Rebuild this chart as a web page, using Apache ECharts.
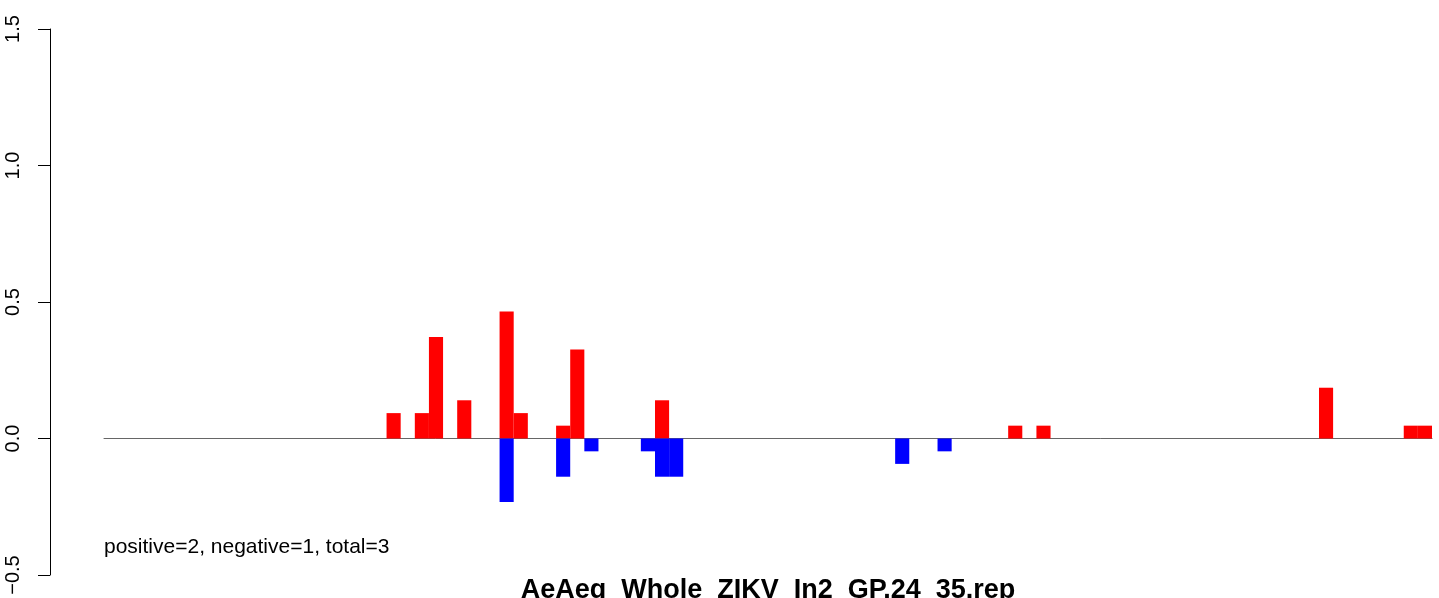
<!DOCTYPE html>
<html><head><meta charset="utf-8">
<script src="https://cdn.jsdelivr.net/npm/echarts@6/dist/echarts.min.js"></script>
<style>html,body{margin:0;padding:0;background:#fff}#c{width:1439px;height:598px}</style>
</head><body><div id="c"></div>
<script>
// 94 bins along the sequence
const nBins = 94;
const categories = Array.from({length: nBins}, (_, i) => String(i + 1));
// positive (red) bars: [bin index, value]
const positiveBars = [[20,0.093],[22,0.093],[23,0.372],[25,0.140],[28,0.465],[29,0.093],[32,0.047],[33,0.326],[39,0.140],[64,0.047],[66,0.047],[86,0.186],[92,0.047],[93,0.047]];
// negative (blue) bars: [bin index, value]
const negativeBars = [[28,-0.233],[32,-0.140],[34,-0.047],[38,-0.047],[39,-0.140],[40,-0.140],[56,-0.093],[59,-0.047]];
const yTicks = [-0.5, 0, 0.5, 1.0, 1.5];
const summaryText = 'positive=2, negative=1, total=3';
const titleText = 'AeAeg_Whole_ZIKV_In2_GP.24_35.rep';

function fill(pairs){
  const arr = new Array(nBins).fill(null);
  pairs.forEach(([i,v]) => { arr[i] = v; });
  return arr;
}
const chart = echarts.init(document.getElementById('c'));
const font = 'Liberation Sans, Arial, Helvetica, sans-serif';
chart.setOption({
  animation: false,
  grid: {left: 104, right: 7, top: 29, bottom: 23, containLabel: false},
  xAxis: {
    type: 'category', data: categories,
    axisLine: {show: true, onZero: true, lineStyle: {color: '#666', width: 1}},
    axisTick: {show: false}, axisLabel: {show: false}, splitLine: {show: false}
  },
  yAxis: {
    type: 'value', min: yTicks[0], max: yTicks[yTicks.length - 1], interval: 0.5, offset: 54,
    axisLine: {show: true, lineStyle: {color: '#000', width: 1}},
    axisTick: {show: true, length: 12, lineStyle: {color: '#000'}},
    axisLabel: {rotate: 90, margin: 27, fontFamily: font, fontSize: 20, color: '#000',
      formatter: v => v.toFixed(1).replace('-', '\u2212')},
    splitLine: {show: false}
  },
  series: [
    {type: 'bar', data: fill(positiveBars), barWidth: '100%', barGap: '-100%', itemStyle: {color: '#ff0000'}},
    {type: 'bar', data: fill(negativeBars), barWidth: '100%', barGap: '-100%', itemStyle: {color: '#0000ff'}}
  ],
  graphic: [
    {type: 'text', x: 104, y: 537, style: {text: summaryText, font: '21px ' + font, fill: '#000', textVerticalAlign: 'top'}},
    {type: 'text', x: 768, y: 577, z: 10,
     style: {text: titleText, font: 'bold 27px ' + font, fill: '#000', textAlign: 'center', textVerticalAlign: 'top'}}
  ]
});
</script></body></html>
